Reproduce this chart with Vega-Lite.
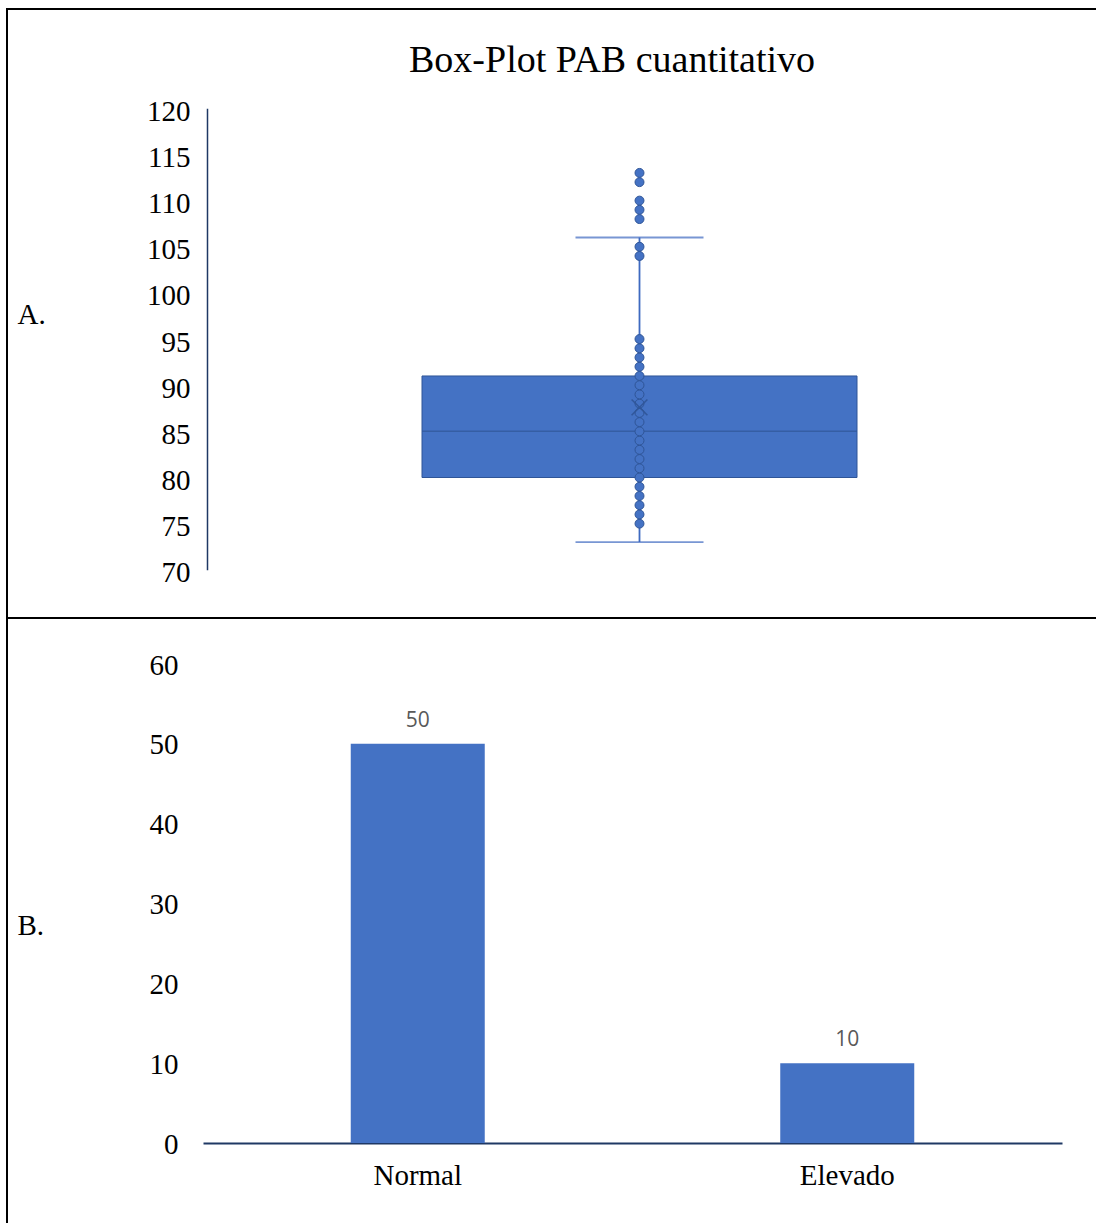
{
  "$schema": "https://vega.github.io/schema/vega-lite/v6.json",
  "padding": {"left": 6, "top": 8, "right": 0, "bottom": 0},
  "bounds": "flush",
  "spacing": 0,
  "background": "#ffffff",
  "config": {
    "view": {"stroke": "#000000", "strokeWidth": 2},
    "font": "Liberation Serif"
  },
  "datasets": {
    "resumen": [
      {"grupo": "PAB", "minimo": 73, "q1": 80, "mediana": 85, "q3": 91, "maximo": 106, "media": 87.6}
    ],
    "puntos": [
      {"grupo": "PAB", "valor": 75}, {"grupo": "PAB", "valor": 76}, {"grupo": "PAB", "valor": 77},
      {"grupo": "PAB", "valor": 78}, {"grupo": "PAB", "valor": 79}, {"grupo": "PAB", "valor": 80},
      {"grupo": "PAB", "valor": 81}, {"grupo": "PAB", "valor": 82}, {"grupo": "PAB", "valor": 83},
      {"grupo": "PAB", "valor": 84}, {"grupo": "PAB", "valor": 85}, {"grupo": "PAB", "valor": 86},
      {"grupo": "PAB", "valor": 87}, {"grupo": "PAB", "valor": 88}, {"grupo": "PAB", "valor": 89},
      {"grupo": "PAB", "valor": 90}, {"grupo": "PAB", "valor": 91}, {"grupo": "PAB", "valor": 92},
      {"grupo": "PAB", "valor": 93}, {"grupo": "PAB", "valor": 94}, {"grupo": "PAB", "valor": 95},
      {"grupo": "PAB", "valor": 104}, {"grupo": "PAB", "valor": 105}, {"grupo": "PAB", "valor": 108},
      {"grupo": "PAB", "valor": 109}, {"grupo": "PAB", "valor": 110}, {"grupo": "PAB", "valor": 112},
      {"grupo": "PAB", "valor": 113}
    ],
    "categorias": [
      {"categoria": "Normal", "n": 50},
      {"categoria": "Elevado", "n": 10}
    ]
  },
  "vconcat": [
    {
      "width": 1100,
      "height": 609,
      "title": {
        "text": "Box-Plot PAB cuantitativo",
        "frame": "group",
        "anchor": "start",
        "dx": 402,
        "offset": -71,
        "font": "Liberation Serif",
        "fontSize": 38,
        "fontWeight": "normal",
        "color": "#000000"
      },
      "encoding": {
        "x": {
          "field": "grupo",
          "type": "nominal",
          "scale": {"domain": ["PAB"], "range": [415, 850], "paddingInner": 0, "paddingOuter": 0},
          "axis": null
        }
      },
      "layer": [
        {
          "data": {"name": "resumen"},
          "mark": {"type": "rule", "color": "#3E6AC0", "strokeWidth": 1.8},
          "encoding": {
            "y": {
              "field": "minimo",
              "type": "quantitative",
              "title": "A.",
              "scale": {"domain": [70, 120], "range": [560.8, 99.3], "nice": false, "zero": false},
              "axis": {
                "values": [70, 75, 80, 85, 90, 95, 100, 105, 110, 115, 120],
                "offset": -200,
                "grid": false,
                "ticks": false,
                "domainColor": "#1F3864",
                "domainWidth": 1.5,
                "labelFont": "Liberation Serif",
                "labelFontSize": 29,
                "labelColor": "#000000",
                "labelPadding": 17,
                "labelOffset": 3,
                "titleAngle": 0,
                "titleX": -190,
                "titleY": 314,
                "titleAlign": "left",
                "titleBaseline": "alphabetic",
                "titleFont": "Liberation Serif",
                "titleFontSize": 29,
                "titleFontWeight": "normal",
                "titleColor": "#000000"
              }
            },
            "y2": {"field": "maximo"}
          }
        },
        {
          "data": {"name": "resumen"},
          "mark": {"type": "tick", "color": "#3E6AC0", "size": 128, "thickness": 1.8},
          "encoding": {"y": {"field": "minimo", "type": "quantitative", "title": "A."}}
        },
        {
          "data": {"name": "resumen"},
          "mark": {"type": "tick", "color": "#3E6AC0", "size": 128, "thickness": 1.8},
          "encoding": {"y": {"field": "maximo", "type": "quantitative", "title": "A."}}
        },
        {
          "data": {"name": "resumen"},
          "mark": {"type": "bar", "fill": "#4472C4", "stroke": "#2F5597", "strokeWidth": 1},
          "encoding": {
            "y": {"field": "q1", "type": "quantitative", "title": "A."},
            "y2": {"field": "q3"}
          }
        },
        {
          "data": {"name": "resumen"},
          "mark": {"type": "tick", "color": "#2F5597", "size": 435, "thickness": 1.5},
          "encoding": {"y": {"field": "mediana", "type": "quantitative", "title": "A."}}
        },
        {
          "data": {"name": "puntos"},
          "mark": {"type": "point", "filled": true, "fill": "#4472C4", "stroke": "#2F5597", "strokeWidth": 1, "size": 80, "opacity": 1, "fillOpacity": 1},
          "encoding": {"y": {"field": "valor", "type": "quantitative", "title": "A."}}
        },
        {
          "data": {"name": "resumen"},
          "mark": {"type": "point", "shape": "M-1,-1L1,1M1,-1L-1,1", "filled": false, "stroke": "#2F5597", "strokeWidth": 1.6, "size": 250, "opacity": 0.9},
          "encoding": {"y": {"field": "media", "type": "quantitative", "title": "A."}}
        }
      ]
    },
    {
      "width": 1100,
      "height": 620,
      "data": {"name": "categorias"},
      "encoding": {
        "x": {
          "field": "categoria",
          "type": "nominal",
          "sort": ["Normal", "Elevado"],
          "scale": {"range": [196, 1055], "paddingInner": 0.688, "paddingOuter": 0.344},
          "axis": {
            "title": null,
            "offset": -95,
            "ticks": false,
            "grid": false,
            "domainColor": "#1F3864",
            "domainWidth": 2,
            "labelAngle": 0,
            "labelFont": "Liberation Serif",
            "labelFontSize": 29,
            "labelColor": "#000000",
            "labelPadding": 18
          }
        },
        "y": {
          "field": "n",
          "type": "quantitative",
          "scale": {"domain": [0, 60], "range": [525, 46], "nice": false},
          "axis": {
            "title": "B.",
            "values": [0, 10, 20, 30, 40, 50, 60],
            "offset": -196,
            "domain": false,
            "ticks": false,
            "grid": false,
            "labelFont": "Liberation Serif",
            "labelFontSize": 29,
            "labelColor": "#000000",
            "labelPadding": 25,
            "labelOffset": 1,
            "titleAngle": 0,
            "titleX": -186,
            "titleY": 316,
            "titleAlign": "left",
            "titleBaseline": "alphabetic",
            "titleFont": "Liberation Serif",
            "titleFontSize": 29,
            "titleFontWeight": "normal",
            "titleColor": "#000000"
          }
        }
      },
      "layer": [
        {"mark": {"type": "bar", "color": "#4472C4"}},
        {
          "mark": {"type": "text", "dy": -17, "baseline": "alphabetic", "font": "Open Sans", "fontSize": 21, "color": "#595959"},
          "encoding": {"text": {"field": "n", "type": "quantitative"}}
        }
      ]
    }
  ]
}
